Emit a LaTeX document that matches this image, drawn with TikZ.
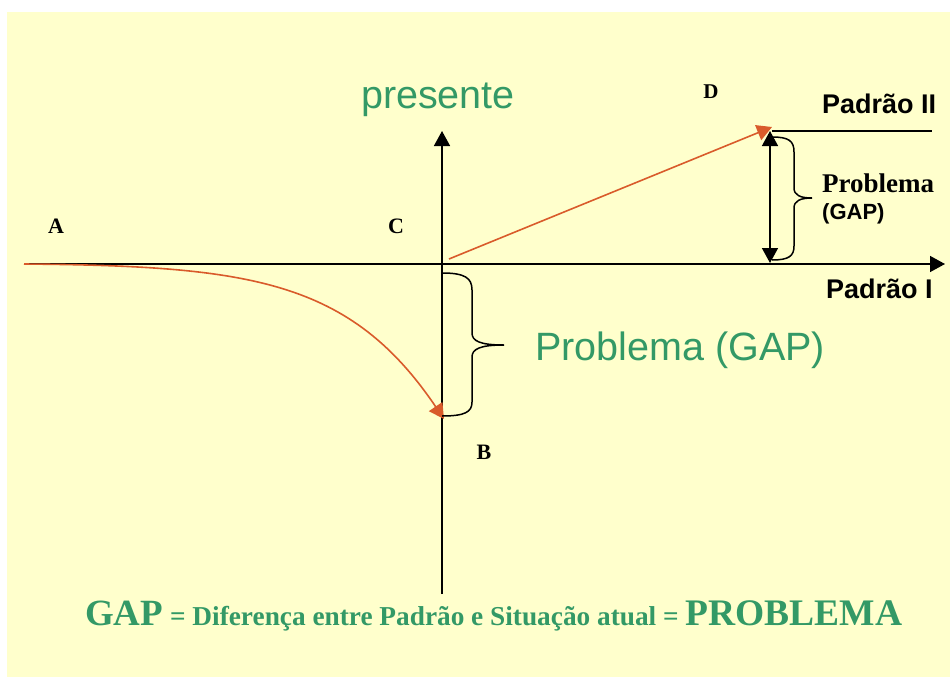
\documentclass[tikz,border=0pt]{standalone}
\usepackage{fontspec}
\setmainfont{Liberation Serif}
\newfontfamily\lsans{Liberation Sans}
\usetikzlibrary{arrows.meta}
\definecolor{bgyellow}{HTML}{FFFFCC}
\definecolor{gapgreen}{HTML}{339966}
\definecolor{curvered}{HTML}{D95B2B}
\tikzset{
  tip/.tip={Triangle[length=15pt,width=16pt]},
  axisline/.style={line width=1.5pt,-tip},
  redline/.style={curvered,line width=1.6pt,-tip},
  bracepath/.style={line width=1.5pt},
  lbl/.style={inner sep=0pt,anchor=base},
  lblw/.style={inner sep=0pt,anchor=base west},
  letter/.style={lbl,font=\fontsize{22}{26}\selectfont\bfseries},
  sansbold/.style={lblw,font=\lsans\fontsize{27}{31}\selectfont\bfseries},
  greentext/.style={text=gapgreen,font=\lsans\fontsize{39.5}{46}\selectfont}
}
\begin{document}
\begin{tikzpicture}[x=1pt,y=-1pt]
\useasboundingbox (0,0) rectangle (950,677);
\fill[bgyellow] (7,12) rectangle (950,677);

% coordinates
\coordinate (axL) at (28,264);
\coordinate (axR) at (945,264);
\coordinate (vB) at (442,594);
\coordinate (vT) at (442,131);
\coordinate (curveS) at (24,264);
\coordinate (curveE) at (444,419);
\coordinate (lineS) at (449,259);
\coordinate (lineE) at (772,127);
\coordinate (p2L) at (772,131);
\coordinate (p2R) at (932,131);
\coordinate (gapT) at (770,131);
\coordinate (gapB) at (770,263);

% axes
\draw[axisline] (axL) -- (axR);
\draw[axisline] (vB) -- (vT);

% Padrao II line
\draw[line width=1.5pt] (p2L) -- (p2R);

% double arrow gap
\draw[line width=1.5pt,tip-tip] (gapB) -- (gapT);

% red curve and line
\draw[redline] (curveS) .. controls (250,266) and (350,280) .. (curveE);
\draw[redline] (lineS) -- (lineE);

% right brace
\draw[bracepath] (772,137) .. controls (789,137) and (794,141) .. (794,152)
  -- (794,188) .. controls (794,195) and (800,198) .. (812,198)
  .. controls (800,198) and (794,201) .. (794,208)
  -- (794,246) .. controls (794,256) and (789,260) .. (772,260);

% lower brace
\draw[bracepath] (442,273) .. controls (465,273) and (472,278) .. (472,290)
  -- (472,333) .. controls (472,341) and (480,345) .. (504,345)
  .. controls (480,345) and (472,349) .. (472,357)
  -- (472,402) .. controls (472,412) and (465,416) .. (442,416);

% letters
\node[letter] (A) at (56,233) {A};
\node[letter] (C) at (396,233) {C};
\node[letter] (B) at (484,459) {B};
\node[letter,font=\fontsize{21}{25}\selectfont\bfseries] (D) at (711,98) {D};

% labels
\node[lbl,greentext] (presente) at (438,108) {presente};
\node[lblw,greentext] (probgap) at (535,360) {Problema (GAP)};
\node[sansbold] (padII) at (822,113) {Padrão II};
\node[sansbold] (padI) at (826,298) {Padrão I};
\node[lblw,font=\fontsize{27}{31}\selectfont\bfseries] (prob) at (822,192) {Problema};
\node[lblw,font=\lsans\fontsize{22}{26}\selectfont\bfseries] (gapsmall) at (822,219) {(GAP)};

% bottom definition
\node[lblw,text=gapgreen,font=\bfseries] (def) at (85,625)
  {\fontsize{37}{42}\selectfont GAP\fontsize{27.3}{32}\selectfont{} = Diferença entre Padrão e Situação atual = \fontsize{37.5}{42}\selectfont PROBLEMA};
\end{tikzpicture}
\end{document}
